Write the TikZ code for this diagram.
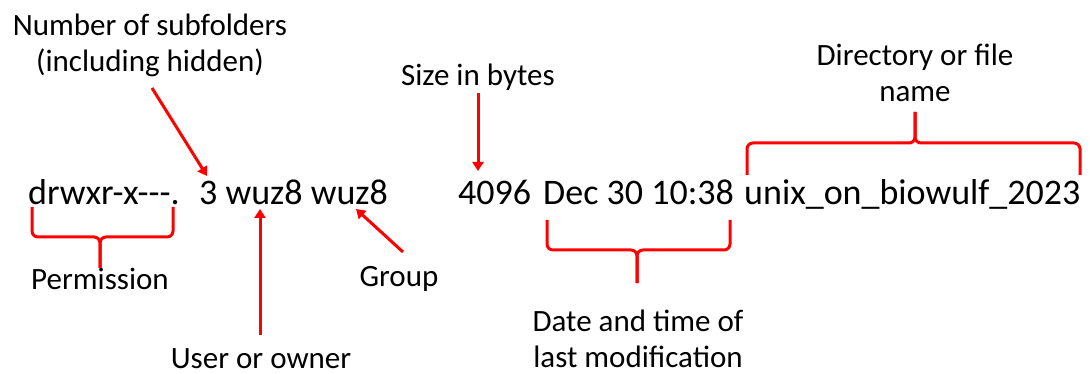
\documentclass[tikz,border=0pt]{standalone}
\usepackage{fontspec}
\setmainfont{Carlito}[Ligatures=TeXOff]
\usetikzlibrary{arrows.meta}
\begin{document}
\begin{tikzpicture}[x=1pt,y=-1pt,
  big/.style={inner sep=0pt, anchor=base west, font=\fontsize{36}{43}\selectfont},
  lbl/.style={inner sep=0pt, anchor=base, align=center, font=\fontsize{31}{36}\selectfont},
  ptr/.style={red, line width=3pt, -{Triangle[length=9pt,width=11pt]}},
  brc/.style={red, line width=3pt, rounded corners=6pt}]
\useasboundingbox (0,0) rectangle (1090,374);

% main listing line
\node[big] (perm)  at (28,205)  {drwxr-x---.};
\node[big] (links) at (199,205) {3 wuz8 wuz8};
\node[big] (size)  at (458,205) {4096};
\node[big] (date)  at (543,205) {Dec 30 10:38};
\node[big] (fname) at (744,205) {unix\_on\_biowulf\_2023};

% labels (base anchor = baseline of last line)
\node[lbl] (lsub)   at (150,72)  {Number of subfolders\\(including hidden)};
\node[lbl] (lsize)  at (478,86)  {Size in bytes};
\node[lbl] (ldir)   at (915,102) {Directory or file\\name};
\node[lbl] (lperm)  at (100,289) {Permission};
\node[lbl] (luser)  at (261,368) {User or owner};
\node[lbl] (lgroup) at (399,287) {Group};
\node[lbl] (ldate)  at (638,367) {Date and time of\\last modification};

% arrow end points
\coordinate (subS) at (152,88);  \coordinate (subT) at (207,176);
\coordinate (sizS) at (478,93);  \coordinate (sizT) at (478,171);
\coordinate (usrS) at (260,335); \coordinate (usrT) at (260,209);
\coordinate (grpS) at (403,252); \coordinate (grpT) at (356,209);

\draw[ptr] (subS) -- (subT);
\draw[ptr] (sizS) -- (sizT);
\draw[ptr] (usrS) -- (usrT);
\draw[ptr] (grpS) -- (grpT);

% braces
\coordinate (pbL) at (32,207);  \coordinate (pbR) at (173,207);
\coordinate (pbM) at (100,237); \coordinate (pbT) at (100,268);
\draw[brc] (pbL) |- (pbM) -- (pbT);
\draw[brc] (pbR) |- (pbM) -- (pbT);

\coordinate (dbL) at (547,220); \coordinate (dbR) at (730,220);
\coordinate (dbM) at (637,250); \coordinate (dbT) at (637,283);
\draw[brc] (dbL) |- (dbM) -- (dbT);
\draw[brc] (dbR) |- (dbM) -- (dbT);

\coordinate (nbL) at (747,175); \coordinate (nbR) at (1080,175);
\coordinate (nbM) at (915,143); \coordinate (nbT) at (915,112);
\draw[brc] (nbL) |- (nbM) -- (nbT);
\draw[brc] (nbR) |- (nbM) -- (nbT);
\end{tikzpicture}
\end{document}
